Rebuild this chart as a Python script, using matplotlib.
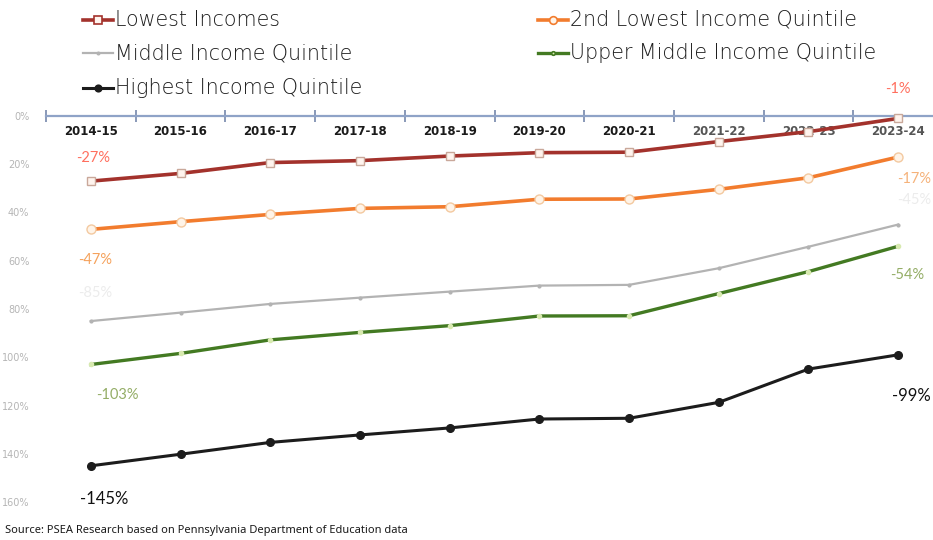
import matplotlib
matplotlib.use("Agg")
import matplotlib.pyplot as plt
from matplotlib.lines import Line2D
from matplotlib.ticker import FixedLocator, FuncFormatter

years = ["2014-15", "2015-16", "2016-17", "2017-18", "2018-19",
         "2019-20", "2020-21", "2021-22", "2022-23", "2023-24"]

lowest = [-27, -23.8, -19.3, -18.5, -16.6, -15.2, -15.0, -10.6, -6.5, -1]
second_lowest = [-47, -43.8, -40.8, -38.3, -37.6, -34.5, -34.4, -30.4, -25.6, -17]
middle = [-85, -81.5, -77.9, -75.3, -72.8, -70.3, -70.0, -63.1, -54.2, -45]
upper_middle = [-103, -98.4, -92.8, -89.7, -86.9, -82.9, -82.8, -73.6, -64.5, -54]
highest = [-145, -140.2, -135.3, -132.2, -129.3, -125.6, -125.3, -118.7, -104.9, -99]

series_names = ["Lowest Incomes", "2nd Lowest Income Quintile",
                "Middle Income Quintile", "Upper Middle Income Quintile",
                "Highest Income Quintile"]

W, H = 933, 540
fig = plt.figure(figsize=(W / 100, H / 100), dpi=100)
fig.patch.set_facecolor("white")

# plot area in pixel terms
left_px, right_px, top_px, bottom_px = 46, 943, 116, 502
ax = fig.add_axes([left_px / W, 1 - bottom_px / H,
                   (right_px - left_px) / W, (bottom_px - top_px) / H])
ax.set_xlim(-0.5, len(years) - 0.5)
ax.set_ylim(-160, 0)
for s in ["left", "right", "bottom"]:
    ax.spines[s].set_visible(False)
ax.spines["top"].set_color("#8fa3c7")
ax.spines["top"].set_linewidth(1.6)

# category boundary ticks crossing the axis line
ax.xaxis.set_ticks_position("top")
ax.set_xticks([i - 0.5 for i in range(len(years) + 1)])
ax.set_xticklabels([])
ax.tick_params(axis="x", direction="inout", length=8, width=1.2, color="#7587ab")

ax.yaxis.set_major_locator(FixedLocator(range(-160, 1, 20)))
ax.yaxis.set_major_formatter(FuncFormatter(lambda v, p: f"{abs(int(v))}%"))
ax.tick_params(axis="y", length=0, pad=12, labelsize=7, labelcolor="#b5b5b5")

x = list(range(len(years)))

# category labels just under the axis line
for i, yr in enumerate(years):
    col = "#1a1a1a" if i < 7 else "#555555"
    ax.text(i, -6.6, yr, ha="center", va="center", fontsize=8.5,
            fontweight="bold", color=col, family="DejaVu Sans", zorder=2)

styles = [
    dict(color="#a3322c", lw=2.6, marker="s", ms=6, mfc="#fff4ee", mec="#c9a89a", mew=1.0),
    dict(color="#f27c2e", lw=2.6, marker="o", ms=6.5, mfc="#fff4e8", mec="#f3c9a0", mew=1.0),
    dict(color="#b3b3b3", lw=1.6, marker="o", ms=2, mfc="#b3b3b3", mec="#b3b3b3"),
    dict(color="#437a22", lw=2.4, marker="o", ms=3, mfc="#d8eab0", mec="#d8eab0"),
    dict(color="#1c1c1c", lw=2.2, marker="o", ms=5.5, mfc="#1c1c1c", mec="#1c1c1c"),
]
data = [lowest, second_lowest, middle, upper_middle, highest]
for vals, st in zip(data, styles):
    ax.plot(x, vals, zorder=3, clip_on=False, **st)

# end-point value labels
lab_font = dict(family="Lato", fontsize=10.5, ha="center", va="center")
ax.text(0.03, lowest[0] + 9.5, f"{lowest[0]}%", color="#ff6f5e", **lab_font)
ax.text(9.0, lowest[-1] + 12.0, f"{lowest[-1]}%", color="#ff6f5e", **lab_font)
ax.text(0.05, second_lowest[0] - 12.6, f"{second_lowest[0]}%", color="#f5a25c", **lab_font)
ax.text(9.18, second_lowest[-1] - 9.0, f"{second_lowest[-1]}%", color="#f5b27a", **lab_font)
ax.text(0.05, middle[0] + 11.5, f"{middle[0]}%", color="#ececec", **lab_font)
ax.text(9.18, middle[-1] + 10.0, f"{middle[-1]}%", color="#ececec", **lab_font)
ax.text(0.3, upper_middle[0] - 12.5, f"{upper_middle[0]}%", color="#94ad66", **lab_font)
ax.text(9.1, upper_middle[-1] - 12.0, f"{upper_middle[-1]}%", color="#94ad66", **lab_font)
ax.text(0.15, highest[0] - 13.6, f"{highest[0]}%", color="#111111",
        family="Lato", fontsize=12, ha="center", va="center")
ax.text(9.15, highest[-1] - 17.0, f"{highest[-1]}%", color="#111111",
        family="Lato", fontsize=12, ha="center", va="center")

# legend drawn in two columns above the plot
legend_pos = [(83, 20), (538, 20), (83, 53), (538, 53), (83, 88)]
for name, st, (lx, ly) in zip(series_names, styles, legend_pos):
    yy = 1 - ly / H
    ms = st["ms"] * 0.85
    ln = Line2D([lx / W, (lx + 30) / W], [yy, yy], transform=fig.transFigure,
                color=st["color"], lw=st["lw"])
    fig.add_artist(ln)
    mk = Line2D([(lx + 15) / W], [yy], transform=fig.transFigure,
                color=st["color"], lw=0, marker=st["marker"], ms=ms,
                mfc=st["mfc"] if st["marker"] != "o" or st["mfc"] != st["color"] else st["color"],
                mec=st["color"], mew=1.2)
    fig.add_artist(mk)
    fig.text((lx + 32) / W, yy, name, ha="left", va="center", fontsize=14.9,
             family="DejaVu Sans", fontweight="light", color="#1e1e1e")

fig.text(5 / W, 1 - 530 / H,
         "Source: PSEA Research based on Pennsylvania Department of Education data",
         ha="left", va="center", fontsize=8, family="Noto Sans", color="#1a1a1a")

fig.savefig("out.png", dpi=100, facecolor="white")
